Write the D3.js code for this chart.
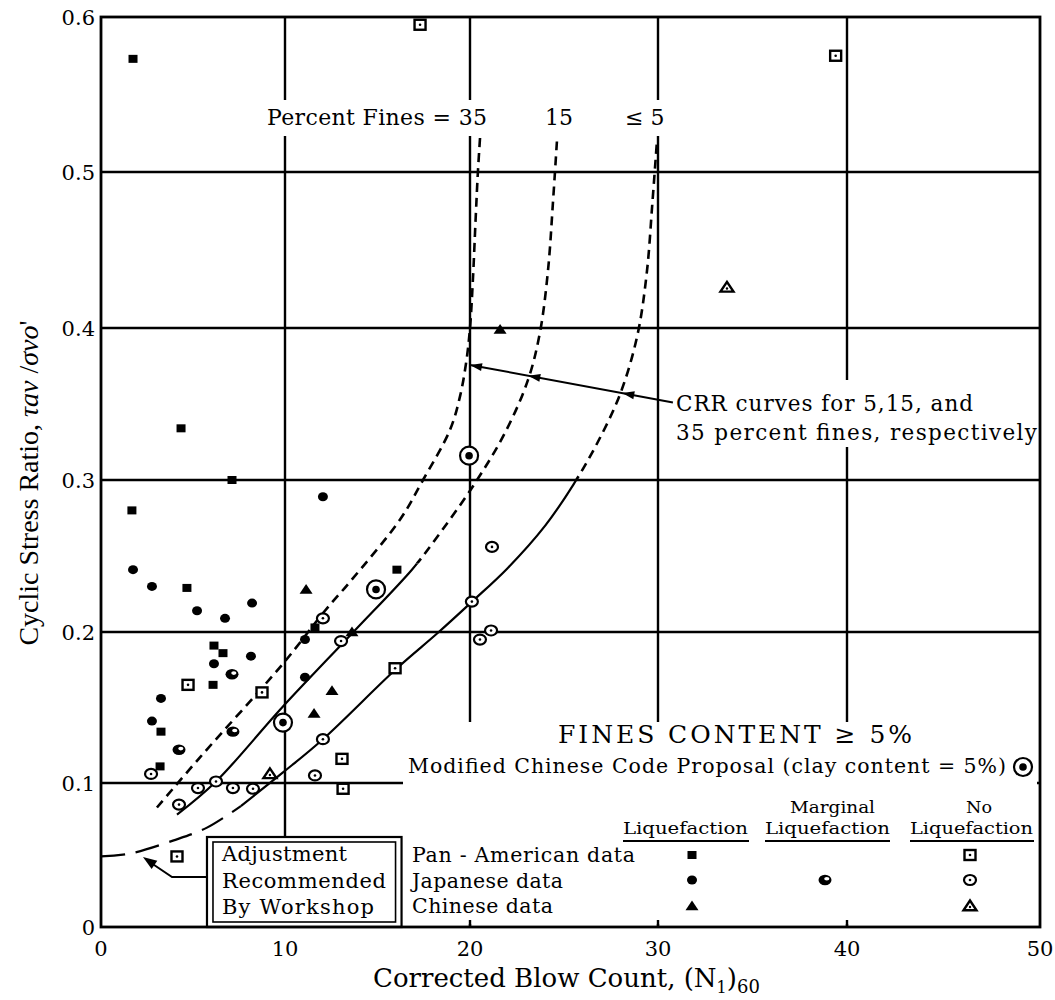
<!DOCTYPE html>
<html><head><meta charset="utf-8">
<script src="https://cdn.jsdelivr.net/npm/d3@7"></script>
<style>body{margin:0;background:#fff} svg{display:block}</style>
</head><body>
<svg id="c" width="1055" height="1000"></svg>
<script>
// ---------- axes / ticks ----------
const xTicks = [0, 10, 20, 30, 40, 50];
const xTickLabels = ["0", "10", "20", "30", "40", "50"];
const yTicks = [0, 0.1, 0.2, 0.3, 0.4, 0.5, 0.6];
const yTickLabels = ["0", "0.1", "0.2", "0.3", "0.4", "0.5", "0.6"];

// ---------- data: [ (N1)60 , CSR ] ----------
const panAmLiq = [[1.74,0.573],[4.35,0.334],[7.12,0.300],[1.68,0.280],[4.67,0.229],[6.14,0.191],[6.63,0.186],[6.09,0.165],[3.26,0.134],[3.21,0.111],[11.62,0.203],[16.05,0.241]];
const japLiq = [[1.74,0.241],[2.77,0.230],[5.22,0.214],[6.74,0.209],[8.21,0.219],[12.05,0.289],[6.14,0.179],[8.15,0.184],[11.08,0.195],[3.26,0.156],[2.77,0.141],[11.08,0.170]];
const chiLiq = [[11.14,0.228],[21.6,0.399],[12.54,0.161],[11.57,0.146],[13.62,0.200]];
const japMarginal = [[7.12,0.172],[7.17,0.134],[4.24,0.122]];
const panAmNo = [[17.3,0.595],[39.4,0.575],[4.73,0.165],[8.75,0.160],[13.08,0.116],[13.14,0.096],[4.13,0.049],[15.95,0.176]];
const japNo = [[12.05,0.209],[13.03,0.194],[21.17,0.256],[20.1,0.220],[21.12,0.201],[20.53,0.195],[2.72,0.106],[4.24,0.085],[5.27,0.0965],[6.25,0.101],[7.17,0.0965],[8.26,0.096],[11.62,0.105],[12.05,0.129]];
const chiNo = [[33.65,0.426],[9.18,0.106]];
const modChinese = [[19.95,0.316],[14.92,0.228],[9.89,0.140]];

// CRR curves (fines = 35, 15, <=5) and workshop adjustment
const crr35 = [[3.04,0.083],[5.38,0.117],[9.89,0.179],[12.16,0.214],[13.51,0.233],[16.22,0.274],[17.46,0.300],[18.92,0.333],[19.46,0.355],[19.8,0.378],[20.0,0.400],[20.15,0.430],[20.3,0.470],[20.42,0.500],[20.55,0.525]];
const crr15 = [[4.13,0.078],[6.25,0.101],[9.84,0.150],[13.62,0.199],[16.86,0.241],[17.95,0.258],[20.27,0.298],[21.9,0.332],[23.09,0.366],[23.72,0.397],[24.15,0.437],[24.41,0.480],[24.63,0.521]];
const crr5 = [[7.6,0.084],[9.89,0.107],[12.05,0.129],[16.05,0.176],[18.22,0.199],[20.11,0.220],[22.0,0.242],[24.0,0.270],[25.5,0.297],[26.8,0.325],[28.0,0.357],[28.9,0.395],[29.4,0.435],[29.7,0.480],[29.95,0.521]];
const adjustment = [[0,0.049],[1.58,0.051],[3.91,0.060],[5.76,0.069],[7.6,0.084]];
const dashAbove15 = 0.245, dashAbove5 = 0.300;

// legend
const legendRows = ["Pan - American data", "Japanese data", "Chinese data"];

// ---------- drawing ----------
const SERIF = "'DejaVu Serif', serif";
const TIMES = "'Liberation Serif', serif";
const svg = d3.select("#c");
const x = d3.scaleLinear().domain(xTicks).range([101, 285, 470, 658, 847, 1040]);
const y = d3.scaleLinear().domain(yTicks).range([927, 783, 632, 480, 328, 172, 17]);

svg.append("rect").attr("width", 1055).attr("height", 1000).attr("fill", "#fff");
const defs = svg.append("defs");
function clip(id, above, v) {
  defs.append("clipPath").attr("id", id).append("rect").attr("x", 0).attr("width", 1055)
    .attr("y", above ? 0 : y(v)).attr("height", above ? y(v) : 1000 - y(v));
}
clip("a15", true, dashAbove15); clip("b15", false, dashAbove15);
clip("a5", true, dashAbove5); clip("b5", false, dashAbove5);

// grid
svg.append("g").selectAll(null).data(xTicks.slice(1, -1)).join("line")
  .attr("x1", d => x(d)).attr("x2", d => x(d)).attr("y1", y(0.6)).attr("y2", y(0))
  .attr("stroke", "#000").attr("stroke-width", 2.4);
svg.append("g").selectAll(null).data(yTicks.slice(1, -1)).join("line")
  .attr("x1", x(0)).attr("x2", x(50)).attr("y1", d => y(d)).attr("y2", d => y(d))
  .attr("stroke", "#000").attr("stroke-width", 2.4);

const white = (x0, y0, x1, y1) => svg.append("rect").attr("x", x0).attr("y", y0)
  .attr("width", x1 - x0).attr("height", y1 - y0).attr("fill", "#fff");
white(262, 100, 668, 136);      // "Percent Fines" label
white(668, 380, 1037, 447);     // CRR label
white(403, 722, 1037, 924);     // legend area

// bottom inner ticks
svg.append("g").selectAll(null).data(xTicks.slice(1, -1)).join("line")
  .attr("x1", d => x(d)).attr("x2", d => x(d)).attr("y1", y(0)).attr("y2", y(0) - 7)
  .attr("stroke", "#000").attr("stroke-width", 2.4);

// curves
const line = d3.line().x(d => x(d[0])).y(d => y(d[1])).curve(d3.curveCatmullRom.alpha(0.5));
const drawCurve = (data, dash, w, clipId) => {
  const p = svg.append("path").datum(data).attr("d", line)
    .attr("fill", "none").attr("stroke", "#000").attr("stroke-width", w);
  if (dash) p.attr("stroke-dasharray", dash);
  if (clipId) p.attr("clip-path", `url(#${clipId})`);
  return p;
};
drawCurve(crr35, "9,6", 2.6);
drawCurve(crr15, null, 2.2, "b15");
drawCurve(crr15, "9,6", 2.6, "a15");
drawCurve(crr5, null, 2.2, "b5");
drawCurve(crr5, "9,6", 2.6, "a5");
drawCurve(adjustment, "24,11", 2.2);

// markers
function filledSquare(g, data) {
  g.selectAll(null).data(data).join("rect")
    .attr("x", d => x(d[0]) - 4.5).attr("y", d => y(d[1]) - 4).attr("width", 9).attr("height", 8).attr("fill", "#000");
}
function filledCircle(g, data) {
  g.selectAll(null).data(data).join("ellipse")
    .attr("cx", d => x(d[0])).attr("cy", d => y(d[1])).attr("rx", 5).attr("ry", 4.5).attr("fill", "#000");
}
function triPath(cx, cy, s) { return `M${cx},${cy - s * 0.85}L${cx + s},${cy + s * 0.65}L${cx - s},${cy + s * 0.65}Z`; }
function filledTri(g, data) {
  g.selectAll(null).data(data).join("path").attr("d", d => triPath(x(d[0]), y(d[1]), 6.5)).attr("fill", "#000");
}
function centerDot(g, data) {
  g.selectAll(null).data(data).join("circle").attr("cx", d => x(d[0])).attr("cy", d => y(d[1])).attr("r", 1.3).attr("fill", "#000");
}
function openSquare(g, data) {
  g.selectAll(null).data(data).join("rect")
    .attr("x", d => x(d[0]) - 5.5).attr("y", d => y(d[1]) - 5).attr("width", 11).attr("height", 10)
    .attr("fill", "#fff").attr("stroke", "#000").attr("stroke-width", 2.4);
  centerDot(g, data);
}
function openCircle(g, data) {
  g.selectAll(null).data(data).join("ellipse")
    .attr("cx", d => x(d[0])).attr("cy", d => y(d[1])).attr("rx", 6).attr("ry", 5)
    .attr("fill", "#fff").attr("stroke", "#000").attr("stroke-width", 2.2);
  centerDot(g, data);
}
function openTri(g, data) {
  g.selectAll(null).data(data).join("path").attr("d", d => triPath(x(d[0]), y(d[1]), 6.5))
    .attr("fill", "#fff").attr("stroke", "#000").attr("stroke-width", 2.4).attr("stroke-linejoin", "miter");
  g.selectAll(null).data(data).join("circle").attr("cx", d => x(d[0])).attr("cy", d => y(d[1]) + 1).attr("r", 1.2).attr("fill", "#000");
}
function marginal(g, data) {
  g.selectAll(null).data(data).join("ellipse")
    .attr("cx", d => x(d[0])).attr("cy", d => y(d[1])).attr("rx", 6.5).attr("ry", 5.2).attr("fill", "#000");
  g.selectAll(null).data(data).join("ellipse")
    .attr("cx", d => x(d[0]) + 1.8).attr("cy", d => y(d[1]) - 1.2).attr("rx", 2.6).attr("ry", 1.8).attr("fill", "#fff");
}
function modMark(g, data) {
  g.selectAll(null).data(data).join("circle")
    .attr("cx", d => x(d[0])).attr("cy", d => y(d[1])).attr("r", 9)
    .attr("fill", "#fff").attr("stroke", "#000").attr("stroke-width", 2.2);
  g.selectAll(null).data(data).join("circle")
    .attr("cx", d => x(d[0])).attr("cy", d => y(d[1])).attr("r", 3.8).attr("fill", "#000");
}
const pts = svg.append("g");
openSquare(pts.append("g"), panAmNo);
openCircle(pts.append("g"), japNo);
openTri(pts.append("g"), chiNo);
modMark(pts.append("g"), modChinese);
marginal(pts.append("g"), japMarginal);
filledSquare(pts.append("g"), panAmLiq);
filledCircle(pts.append("g"), japLiq);
filledTri(pts.append("g"), chiLiq);

// CRR arrow
const a0 = [x(30.79), y(0.351)], a1 = [x(20.0), y(0.3757)];
svg.append("line").attr("x1", a0[0]).attr("y1", a0[1]).attr("x2", a1[0]).attr("y2", a1[1])
  .attr("stroke", "#000").attr("stroke-width", 2);
const ang = Math.atan2(a1[1] - a0[1], a1[0] - a0[0]);
function arrowHead(px, py, angle, len, hw) {
  const bx = px - Math.cos(angle) * len, by = py - Math.sin(angle) * len;
  const nx = -Math.sin(angle) * hw, ny = Math.cos(angle) * hw;
  svg.append("path").attr("d", `M${px},${py}L${bx + nx},${by + ny}L${bx - nx},${by - ny}Z`).attr("fill", "#000");
}
[28.1, 23.1, 20.0].forEach(v => {
  const px = x(v), t = (px - a0[0]) / (a1[0] - a0[0]);
  arrowHead(px, a0[1] + t * (a1[1] - a0[1]), ang, 12, 4);
});

// Adjustment box + arrow
const bx0 = x(5.76), by0 = y(0.0625), bx1 = x(16.3), by1 = y(0);
svg.append("rect").attr("x", bx0).attr("y", by0).attr("width", bx1 - bx0).attr("height", by1 - by0)
  .attr("fill", "#fff").attr("stroke", "#000").attr("stroke-width", 2.2);
svg.append("rect").attr("x", bx0 + 6).attr("y", by0 + 5).attr("width", bx1 - bx0 - 12).attr("height", by1 - by0 - 10)
  .attr("fill", "none").attr("stroke", "#000").attr("stroke-width", 1.6);
const boxArrow = [[bx0, y(0.0347)], [x(3.86), y(0.0347)], [x(2.28), y(0.0486)]];
svg.append("path").attr("d", d3.line()(boxArrow.slice(0, 2).concat([[boxArrow[2][0] + 6, boxArrow[2][1] + 4.5]])))
  .attr("fill", "none").attr("stroke", "#000").attr("stroke-width", 2);
arrowHead(boxArrow[2][0], boxArrow[2][1], Math.atan2(boxArrow[2][1] - boxArrow[1][1], boxArrow[2][0] - boxArrow[1][0]), 14, 5);
[["Adjustment", 125], ["Recommended", 164], ["By Workshop", 152]].forEach((t, i) => {
  svg.append("text").attr("x", bx0 + 15).attr("y", 861 + i * 26.5).text(t[0])
    .attr("font-family", SERIF).attr("font-size", 21).attr("fill", "#000")
    .attr("textLength", t[1]).attr("lengthAdjust", "spacing");
});

// plot border
svg.append("rect").attr("x", x(0)).attr("y", y(0.6)).attr("width", x(50) - x(0)).attr("height", y(0) - y(0.6))
  .attr("fill", "none").attr("stroke", "#000").attr("stroke-width", 2.8);

// tick labels
svg.append("g").selectAll(null).data(yTicks).join("text")
  .attr("x", 95).attr("y", d => y(d)).attr("dy", "0.36em").attr("text-anchor", "end")
  .attr("font-family", SERIF).attr("font-size", 21).text((d, i) => yTickLabels[i]);
svg.append("g").selectAll(null).data(xTicks).join("text")
  .attr("x", d => x(d)).attr("y", 956).attr("text-anchor", "middle")
  .attr("font-family", SERIF).attr("font-size", 21).text((d, i) => xTickLabels[i]);

// axis titles
const xt = svg.append("text").attr("x", 373).attr("y", 987).attr("font-family", SERIF).attr("font-size", 26);
xt.append("tspan").text("Corrected Blow Count, (N");
xt.append("tspan").attr("font-size", 16).attr("dy", 6).text("1");
xt.append("tspan").attr("dy", -6).text(")");
xt.append("tspan").attr("font-size", 18).attr("dy", 6).text("60");

const yt = svg.append("text").attr("transform", "translate(38,483) rotate(-90)").attr("text-anchor", "middle")
  .attr("font-family", TIMES).attr("font-size", 28);
yt.append("tspan").text("Cyclic Stress Ratio, ");
yt.append("tspan").attr("font-style", "italic").text("τ");
yt.append("tspan").attr("font-style", "italic").text("av");
yt.append("tspan").text(" /");
yt.append("tspan").attr("font-style", "italic").text("σ");
yt.append("tspan").attr("font-style", "italic").text("vo");
yt.append("tspan").text("'");

// curve labels
const lbl = (t, px, py, fs, len, fam) => {
  const e = svg.append("text").attr("x", px).attr("y", py).attr("font-family", fam || SERIF).attr("font-size", fs).text(t);
  if (len) e.attr("textLength", len).attr("lengthAdjust", "spacing");
  return e;
};
lbl("Percent Fines = 35", 267, 125, 22, 220);
lbl("15", 545, 125, 22);
lbl("≤ 5", 625, 125, 22);
lbl("CRR curves for 5,15, and", 676, 411, 21.5, 297);
lbl("35 percent fines, respectively", 676, 440, 21.5, 361);
lbl("FINES CONTENT ≥ 5%", 558, 743, 25, 354);
lbl("Modified Chinese Code Proposal (clay content = 5%)", 408, 773, 20.5, 598);
modMark(svg.append("g"), [[x.invert(1023), y.invert(767)]]);

// legend headers
const hdr = (t, px, py, len) => svg.append("text").attr("x", px).attr("y", py)
  .attr("font-family", SERIF).attr("font-size", 16).attr("textLength", len).attr("lengthAdjust", "spacingAndGlyphs").text(t);
hdr("Liquefaction", 623, 834, 125);
hdr("Marginal", 790, 813, 85);
hdr("Liquefaction", 765, 834, 125);
hdr("No", 966, 813, 26);
hdr("Liquefaction", 910, 834, 123);
[[623, 749], [765, 890], [910, 1034]].forEach(s => svg.append("line").attr("x1", s[0]).attr("x2", s[1])
  .attr("y1", 841).attr("y2", 841).attr("stroke", "#000").attr("stroke-width", 2));
const rowLen = [223, 151, 141];
legendRows.forEach((t, i) => lbl(t, 412, 862 + i * 25.5, 20.5, rowLen[i]));

const lx = v => x.invert(v), ly = v => y.invert(v);
const lg = svg.append("g");
filledSquare(lg.append("g"), [[lx(692), ly(855)]]);
filledCircle(lg.append("g"), [[lx(692), ly(880)]]);
filledTri(lg.append("g"), [[lx(692), ly(906)]]);
marginal(lg.append("g"), [[lx(825), ly(880)]]);
openSquare(lg.append("g"), [[lx(970), ly(855)]]);
openCircle(lg.append("g"), [[lx(970), ly(880)]]);
openTri(lg.append("g"), [[lx(970), ly(906)]]);
</script>
</body></html>
